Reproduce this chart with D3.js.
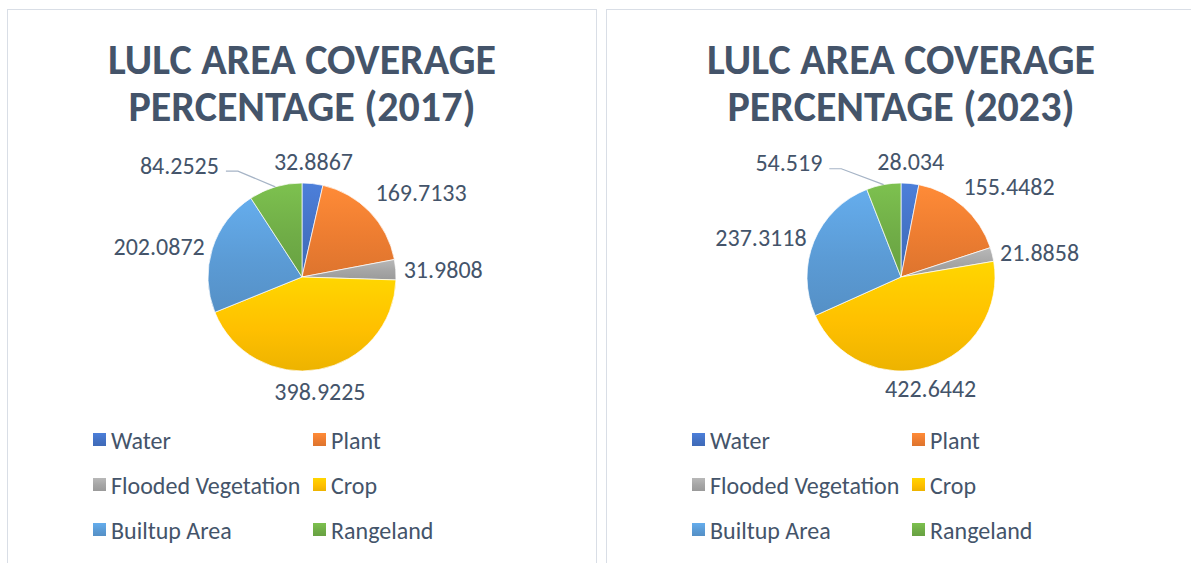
<!DOCTYPE html>
<html>
<head>
<meta charset="utf-8">
<script src="https://cdn.jsdelivr.net/npm/d3@7"></script>
<style>
  body { margin: 0; background: #fff; }
  text { font-family: Carlito, Calibri, Lato, sans-serif; }
</style>
</head>
<body>
<svg id="chart" width="1191" height="563"></svg>
<script>
// data
const categories = ["Water", "Plant", "Flooded Vegetation", "Crop", "Builtup Area", "Rangeland"];
const years = ["2017", "2023"];
const values2017 = [32.8867, 169.7133, 31.9808, 398.9225, 202.0872, 84.2525];
const values2023 = [28.034, 155.4482, 21.8858, 422.6442, 237.3118, 54.519];
const colors = ["#4472C4", "#ED7D31", "#A5A5A5", "#FFC000", "#5B9BD5", "#70AD47"];

const textColor = "#44546A";
const svg = d3.select("#chart");
const defs = svg.append("defs");

// gradient per colour, lighter on top like the office preset
colors.forEach((c, i) => {
    const g = defs.append("linearGradient")
        .attr("id", "grad" + i)
        .attr("x1", 0).attr("y1", 0).attr("x2", 0).attr("y2", 1);
    g.append("stop").attr("offset", "0%").attr("stop-color", d3.color(c).brighter(0.3));
    g.append("stop").attr("offset", "55%").attr("stop-color", c);
    g.append("stop").attr("offset", "100%").attr("stop-color", d3.color(c).darker(0.2));
});

const panelWidth = 590;
const radius = 94;

function drawPanel(x0, year, values) {
    const panel = svg.append("g").attr("transform", "translate(" + x0 + ",0)");

    // frame
    panel.append("rect")
        .attr("x", 0.5).attr("y", 9.5)
        .attr("width", panelWidth - 1).attr("height", 620)
        .attr("fill", "#fff")
        .attr("stroke", "#D9DEE6");

    const cx = panelWidth / 2;

    // title, two lines
    ["LULC AREA COVERAGE", "PERCENTAGE (" + year + ")"].forEach((line, i) => {
        panel.append("text")
            .attr("x", cx)
            .attr("y", 74 + i * 47)
            .attr("text-anchor", "middle")
            .attr("fill", textColor)
            .style("font-size", "42px")
            .style("font-weight", "bold")
            .text(line);
    });

    // pie
    const pie = d3.pie().sort(null).value(d => d);
    const arcs = pie(values);
    const arc = d3.arc().innerRadius(0).outerRadius(radius);
    const g = panel.append("g").attr("transform", "translate(" + cx + ",277)");

    g.selectAll("path")
        .data(arcs)
        .enter()
        .append("path")
        .attr("d", arc)
        .attr("fill", (d, i) => "url(#grad" + i + ")")
        .attr("stroke", "#fff")
        .attr("stroke-width", 0.7);

    // labels: outside end, box pushed away from the slice
    const clamp = v => Math.max(-1, Math.min(1, v));
    const boxes = arcs.map((d, i) => {
        const a = (d.startAngle + d.endAngle) / 2;
        const s = Math.sin(a), c = Math.cos(a);
        const ax = s * (radius + 8), ay = -c * (radius + 8);
        const t = g.append("text")
            .attr("fill", textColor)
            .style("font-size", "24px")
            .attr("text-anchor", "middle")
            .attr("dominant-baseline", "central")
            .text(String(values[i]));
        const w = t.node().getComputedTextLength();
        const fx = Math.sign(s) * clamp(Math.max(0, Math.abs(s) - 0.35) / 0.35);
        const fy = Math.sign(c) * clamp(Math.max(0, Math.abs(c) - 0.35) / 0.35);
        return { t: t, a: a, w: w, x: ax + fx * w / 2, y: ay - fy * 14, leader: false };
    });

    // push overlapping labels on the left side away, with a leader line
    boxes.forEach((b, i) => {
        boxes.forEach((o, j) => {
            if (i === j || b.leader || Math.sin(b.a) >= 0) return;
            const overlapX = Math.abs(b.x - o.x) < (b.w + o.w) / 2;
            const overlapY = Math.abs(b.y - o.y) < 26;
            if (overlapX && overlapY && Math.cos(b.a) > 0) {
                b.x = (o.x - o.w / 2) - 55 - b.w / 2;
                b.leader = true;
            }
        });
    });

    boxes.forEach(b => {
        b.t.attr("x", b.x).attr("y", b.y);
        if (b.leader) {
            const ly = b.y + 6;
            const sx = b.x + b.w / 2 + 7;
            const ex = Math.sin(b.a) * radius, ey = -Math.cos(b.a) * radius;
            g.append("path")
                .attr("d", d3.line()([[sx, ly], [sx + 12, ly], [ex, ey]]))
                .attr("fill", "none")
                .attr("stroke", "#A6B4C6")
                .attr("stroke-width", 1.2);
        }
    });

    // legend, two columns
    const legend = panel.append("g");
    const item = legend.selectAll("g")
        .data(categories)
        .enter()
        .append("g")
        .attr("transform", (d, i) => "translate(" + (86 + (i % 2) * 220) + "," + (440 + Math.floor(i / 2) * 45) + ")");
    item.append("rect")
        .attr("x", 0).attr("y", -7)
        .attr("width", 13).attr("height", 13)
        .attr("fill", (d, i) => "url(#grad" + i + ")");
    item.append("text")
        .attr("x", 18).attr("y", 0)
        .attr("dominant-baseline", "central")
        .attr("fill", textColor)
        .style("font-size", "24px")
        .text(d => d);
}

drawPanel(7, years[0], values2017);
drawPanel(606, years[1], values2023);
</script>
</body>
</html>
